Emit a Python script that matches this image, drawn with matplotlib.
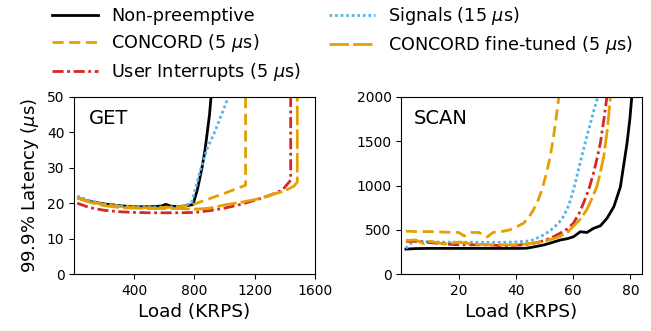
import numpy as np
from matplotlib import pyplot as plt

# ---- GET panel data (load in KRPS, 99.9% latency in us)
get_np_x = [30, 100, 200, 300, 400, 500, 580, 610, 640, 700, 790, 820, 850, 870, 900, 920]
get_np_y = [21.4, 20.5, 19.8, 19.3, 19.0, 19.0, 19.2, 19.7, 19.2, 19.0, 19.6, 24, 30, 35, 45, 55]

get_sig_x = [20, 100, 200, 300, 400, 500, 600, 700, 780, 840, 880, 930, 980, 1030]
get_sig_y = [22.0, 20.8, 19.8, 19.3, 19.0, 18.9, 18.9, 19.0, 20.0, 29.4, 35, 39.7, 45, 50.5]

get_con_x = [20, 100, 200, 300, 400, 500, 600, 700, 780, 900, 1000, 1140, 1140]
get_con_y = [21.5, 20.5, 19.6, 19.1, 18.8, 18.7, 18.8, 19.0, 19.5, 21.3, 22.8, 25.1, 60]

get_ui_x = [20, 100, 200, 300, 400, 500, 600, 700, 800, 900, 1000, 1100, 1200, 1300, 1384, 1440, 1440]
get_ui_y = [20.0, 18.8, 18.0, 17.6, 17.4, 17.3, 17.3, 17.3, 17.4, 17.9, 18.6, 19.6, 20.8, 22.2, 23.7, 26.5, 60]

get_ft_x = [20, 100, 200, 300, 400, 500, 600, 700, 800, 900, 1000, 1100, 1200, 1300, 1400, 1460, 1484, 1484]
get_ft_y = [21.5, 20.3, 19.3, 18.8, 18.6, 18.5, 18.5, 18.5, 18.3, 18.6, 19.5, 20.2, 21.0, 22.2, 23.5, 24.8, 26.0, 60]

# ---- SCAN panel data
scan_np_x = [1.6, 5, 10, 15, 20, 25, 30, 35, 40, 43.7, 46, 49.6, 52, 55.4, 58, 60.1, 62.5, 64.8, 67.1, 69.5,
             71.8, 74.2, 76.5, 78.8, 79.8, 80.6]
scan_np_y = [282, 288, 290, 290, 290, 290, 290, 290, 290, 292, 305, 328, 350, 384, 400, 421, 478, 470, 516, 545,
             629, 760, 986, 1476, 1750, 2050]

scan_sig_x = [1.6, 3, 5, 10, 15, 20, 25, 30, 35, 40, 45, 48.4, 51, 53.1, 55, 56.6, 58.5, 60.1, 61.5, 63, 64.5,
              66, 67.5, 68.6, 69]
scan_sig_y = [290, 340, 370, 365, 360, 360, 360, 358, 358, 362, 375, 420, 470, 520, 580, 650, 780, 950, 1130,
              1330, 1520, 1700, 1880, 2000, 2100]

scan_con_x = [1.6, 5, 10, 14, 18, 20, 22, 24, 27, 30, 32, 35, 38, 40, 42.7, 44.5, 46.2, 47.7, 49.1, 50.6, 52,
              53, 53.8, 55, 55.5]
scan_con_y = [485, 480, 480, 475, 470, 470, 430, 470, 470, 420, 470, 480, 500, 530, 575, 640, 730, 830, 950,
              1130, 1330, 1520, 1700, 2000, 2100]

scan_ui_x = [1.6, 5, 10, 15, 20, 25, 30, 35, 40, 45, 48, 50.8, 53, 55.4, 58, 60.1, 62, 63.6, 65.5, 67.1, 68.3,
             69.5, 70.7, 71.8, 72.2]
scan_ui_y = [370, 370, 355, 340, 330, 330, 330, 320, 325, 340, 360, 390, 420, 460, 510, 575, 680, 800, 960,
             1140, 1300, 1480, 1740, 2000, 2100]

scan_ft_x = [1.6, 5, 8, 10, 15, 20, 25, 30, 35, 40, 45, 50, 53, 55.4, 58, 60.1, 62.5, 64.8, 66.5, 68.3, 69.5,
             70.7, 72, 73, 73.4]
scan_ft_y = [380, 385, 340, 370, 340, 360, 340, 330, 330, 330, 345, 370, 400, 425, 470, 540, 620, 730, 850,
             990, 1150, 1330, 1650, 2000, 2100]

labels = ['Non-preemptive', r'CONCORD (5 $\mu$s)', r'User Interrupts (5 $\mu$s)',
          r'Signals (15 $\mu$s)', r'CONCORD fine-tuned (5 $\mu$s)']

black = 'black'
orange = '#E69F00'
blue = '#56B4E9'
red = '#D62728'
lw = 2

fig, (ax1, ax2) = plt.subplots(1, 2, figsize=(6.51, 3.31), dpi=100)
fig.subplots_adjust(left=0.114, right=0.986, bottom=0.172, top=0.707, wspace=0.36)


def draw(ax, d):
    h1, = ax.plot(d[0][0], d[0][1], color=black, lw=lw, ls='-')
    h4, = ax.plot(d[3][0], d[3][1], color=blue, lw=lw, ls=(0, (1, 1)))
    h2, = ax.plot(d[1][0], d[1][1], color=orange, lw=lw, ls=(0, (4, 2)))
    h3, = ax.plot(d[2][0], d[2][1], color=red, lw=lw, ls=(0, (4, 1.3, 1, 1.3)))
    h5, = ax.plot(d[4][0], d[4][1], color=orange, lw=lw, ls=(0, (7, 1.5)))
    return [h1, h2, h3, h4, h5]


handles = draw(ax1, [(get_np_x, get_np_y), (get_con_x, get_con_y), (get_ui_x, get_ui_y),
                     (get_sig_x, get_sig_y), (get_ft_x, get_ft_y)])
draw(ax2, [(scan_np_x, scan_np_y), (scan_con_x, scan_con_y), (scan_ui_x, scan_ui_y),
           (scan_sig_x, scan_sig_y), (scan_ft_x, scan_ft_y)])

ax1.set_xlim(0, 1600)
ax1.set_ylim(0, 50)
ax1.set_xticks([400, 800, 1200, 1600])
ax1.set_yticks([0, 10, 20, 30, 40, 50])
ax1.text(0.063, 0.88, 'GET', transform=ax1.transAxes, fontsize=14, va='center')
ax1.set_xlabel('Load (KRPS)', fontsize=13.3)
ax1.set_ylabel(r'99.9% Latency ($\mu$s)', fontsize=13)

ax2.set_xlim(0, 84)
ax2.set_ylim(0, 2000)
ax2.set_xticks([20, 40, 60, 80])
ax2.set_yticks([0, 500, 1000, 1500, 2000])
ax2.text(0.05, 0.88, 'SCAN', transform=ax2.transAxes, fontsize=14, va='center')
ax2.set_xlabel('Load (KRPS)', fontsize=13.3)

for ax in (ax1, ax2):
    ax.tick_params(labelsize=10)

fig.legend(handles, labels, loc='upper center', bbox_to_anchor=(0.526, 1.032), ncol=2,
           frameon=False, fontsize=12.7, handlelength=2.6, handletextpad=0.72,
           columnspacing=1.6, labelspacing=0.4)

plt.savefig('out.png', dpi=100)
